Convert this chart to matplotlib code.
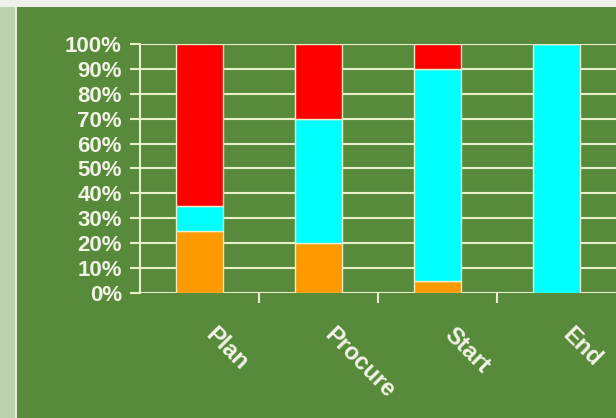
import matplotlib
matplotlib.use("Agg")
import matplotlib.pyplot as plt
import matplotlib.transforms as mtrans
from matplotlib.patches import Rectangle
import numpy as np

matplotlib.rcParams["font.family"] = ["Liberation Sans", "DejaVu Sans"]
matplotlib.rcParams["font.weight"] = "bold"

# data (percent of each phase)
phases = ["Plan", "Procure", "Start", "End"]
orange_vals = [25, 20, 5, 0]
cyan_vals = [10, 50, 85, 100]
red_vals = [65, 30, 10, 0]
yticks = list(range(0, 101, 10))

bg = "#578a3b"
pale = "#e8efc9"
txt = "#f2f4e6"

fig = plt.figure(figsize=(6.16, 4.18), dpi=100, facecolor=bg)

# left light strip + top light strip (slide frame)
fig.patches.append(Rectangle((0, 0), 15 / 616, 1, transform=fig.transFigure,
                             facecolor="#bcd2ad", edgecolor="none", zorder=0))
fig.patches.append(Rectangle((15 / 616, 0), 2 / 616, 1, transform=fig.transFigure,
                             facecolor="#e4ecdc", edgecolor="none", zorder=0))
fig.patches.append(Rectangle((0, 1 - 7 / 418), 1, 7 / 418, transform=fig.transFigure,
                             facecolor="#eef2ea", edgecolor="none", zorder=0))

ax = fig.add_axes([140 / 616, 125 / 418, 476 / 616, 249 / 418])
ax.set_facecolor(bg)

x = np.arange(len(phases))
w = 0.4
ax.bar(x, orange_vals, w, color="#ff9900", edgecolor=pale, linewidth=1, zorder=3)
ax.bar(x, cyan_vals, w, bottom=orange_vals, color="#00ffff", edgecolor=pale, linewidth=1, zorder=3)
bot2 = [a + b for a, b in zip(orange_vals, cyan_vals)]
ax.bar(x, red_vals, w, bottom=bot2, color="#ff0000", edgecolor=pale, linewidth=1, zorder=3)

ax.set_xlim(-0.5, 3.5)
ax.set_ylim(0, 100)
ax.set_yticks(yticks)
ax.set_yticklabels([f"{v}%" for v in yticks], color=txt, fontsize=16, fontweight="bold")
ax.yaxis.grid(True, color=pale, linewidth=1.5, zorder=0)
ax.set_axisbelow(True)
ax.tick_params(axis="y", length=7, width=1.5, color=pale, pad=6)

ax.set_xticks(x)
ax.set_xticklabels(phases, rotation=-45, ha="left", va="top", rotation_mode="anchor",
                   color=txt, fontsize=17, fontweight="bold")
ax.set_xticks([0.5, 1.5, 2.5], minor=True)
ax.tick_params(axis="x", which="major", length=0, pad=22)
ax.tick_params(axis="x", which="minor", length=7, width=1.5, color=pale)
shift = mtrans.ScaledTranslation(18 / 100, 0, fig.dpi_scale_trans)
for lab in ax.get_xticklabels():
    lab.set_transform(lab.get_transform() + shift)

for s in ["top", "right", "bottom"]:
    ax.spines[s].set_visible(False)
ax.spines["left"].set_color(pale)
ax.spines["left"].set_linewidth(1.5)

plt.savefig("out.png", dpi=100, facecolor=bg)
